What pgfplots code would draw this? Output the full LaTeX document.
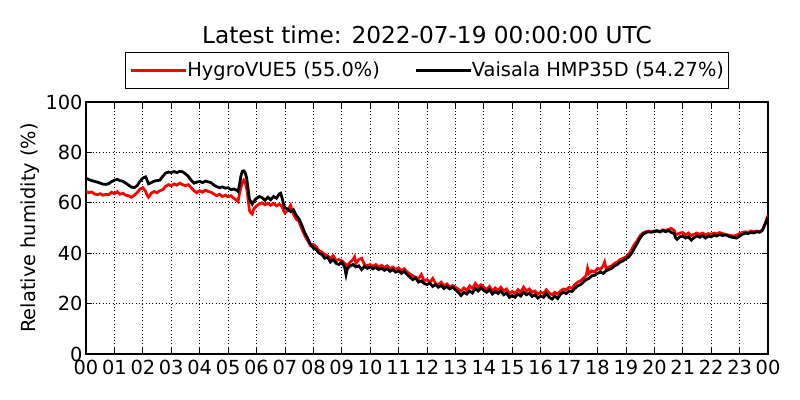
\documentclass[border=0pt]{standalone}
\usepackage{pgfplots}
\usepackage{pgfplotstable}
\pgfplotsset{compat=1.18}
\usepackage{fontspec}
\setmainfont{DejaVu Sans}
\pgfplotstableread{
x y
0.0 64.5
0.1 64.0
0.2 64.3
0.3 63.5
0.4 63.2
0.5 63.6
0.6 63.0
0.7 63.4
0.8 63.2
0.9 64.2
1.0 63.6
1.1 64.4
1.2 63.4
1.3 63.8
1.4 63.0
1.5 62.8
1.6 62.2
1.7 63.0
1.8 64.0
1.9 65.5
2.0 66.0
2.1 64.5
2.15 63.0
2.2 62.2
2.3 63.8
2.4 64.5
2.5 64.0
2.6 64.8
2.7 65.2
2.8 66.5
2.9 67.2
3.0 66.8
3.1 67.5
3.2 67.0
3.3 67.8
3.4 67.2
3.5 66.8
3.6 67.2
3.7 66.0
3.8 64.8
3.9 64.0
4.0 64.8
4.1 64.2
4.2 65.0
4.3 64.5
4.4 64.2
4.5 63.5
4.6 62.8
4.7 63.4
4.8 62.5
4.9 63.0
5.0 62.4
5.1 62.8
5.2 61.8
5.3 61.0
5.35 60.5
5.4 63.5
5.45 66.0
5.5 68.0
5.55 69.0
5.6 68.0
5.65 66.0
5.7 62.0
5.75 57.0
5.8 56.0
5.85 55.5
5.9 57.5
6.0 58.8
6.1 59.5
6.2 60.0
6.3 59.2
6.4 59.8
6.5 59.0
6.6 59.8
6.7 58.8
6.8 59.5
6.9 58.5
6.95 57.0
7.0 56.0
7.1 57.0
7.2 59.0
7.25 57.0
7.3 55.5
7.4 53.5
7.5 52.5
7.6 49.5
7.7 47.0
7.8 45.0
7.9 43.0
8.0 43.5
8.1 42.5
8.2 41.0
8.3 40.5
8.4 39.5
8.5 39.0
8.6 38.0
8.7 39.0
8.8 37.0
8.9 37.5
9.0 37.0
9.1 36.0
9.2 35.0
9.3 36.5
9.4 37.5
9.45 38.5
9.5 36.0
9.6 37.5
9.7 38.0
9.8 35.5
9.9 35.0
10.0 35.5
10.1 34.8
10.2 35.5
10.3 34.5
10.4 35.2
10.5 34.2
10.6 35.0
10.7 33.8
10.8 34.5
10.9 33.5
11.0 34.2
11.1 33.0
11.2 33.8
11.3 32.5
11.4 31.8
11.5 31.0
11.6 30.5
11.7 29.8
11.8 31.5
11.9 29.0
12.0 29.5
12.1 28.5
12.2 30.0
12.3 28.0
12.4 27.5
12.5 28.5
12.6 27.0
12.7 27.8
12.8 26.5
12.9 27.2
13.0 26.5
13.1 25.8
13.2 25.0
13.3 26.2
13.4 25.2
13.5 27.0
13.6 26.0
13.7 28.0
13.8 26.5
13.9 27.5
14.0 26.5
14.1 25.5
14.2 26.8
14.3 25.0
14.4 26.2
14.5 25.2
14.6 26.5
14.7 25.0
14.8 25.8
14.9 24.0
15.0 24.8
15.1 24.0
15.2 25.5
15.3 24.5
15.4 26.5
15.5 25.0
15.6 25.8
15.7 24.5
15.8 25.0
15.9 23.8
16.0 24.5
16.1 24.0
16.2 25.5
16.3 24.2
16.4 23.5
16.5 24.5
16.6 23.8
16.7 25.0
16.8 25.8
16.9 25.5
17.0 26.5
17.1 26.0
17.2 27.5
17.3 28.5
17.4 29.0
17.5 30.0
17.6 31.0
17.65 34.0
17.7 32.0
17.8 33.0
17.9 32.5
18.0 34.0
18.1 33.5
18.2 35.0
18.25 36.5
18.3 34.0
18.4 34.5
18.5 35.0
18.6 36.0
18.7 36.5
18.8 37.5
18.9 38.0
19.0 38.5
19.1 39.5
19.2 41.5
19.3 43.5
19.4 45.0
19.5 47.0
19.6 48.0
19.7 48.5
19.8 48.8
19.9 48.5
20.0 48.8
20.1 49.0
20.2 48.6
20.3 49.3
20.4 49.0
20.5 49.5
20.6 49.8
20.7 49.0
20.75 47.5
20.8 47.5
20.9 48.0
21.0 48.2
21.1 47.2
21.2 48.0
21.3 47.0
21.4 47.5
21.5 48.0
21.6 47.4
21.7 48.0
21.8 47.2
21.9 47.8
22.0 47.5
22.1 48.0
22.2 47.6
22.3 48.2
22.4 47.8
22.5 47.5
22.6 47.2
22.7 47.0
22.8 46.8
22.9 47.2
23.0 47.8
23.1 48.2
23.2 48.5
23.3 48.2
23.4 48.8
23.5 48.5
23.6 48.8
23.7 48.5
23.8 49.2
23.9 51.8
24.0 55.0
}\hygro
\pgfplotstableread{
x y
0.0 69.8
0.1 69.2
0.2 68.8
0.3 68.5
0.4 68.2
0.5 67.8
0.6 67.4
0.7 67.3
0.8 67.6
0.9 68.4
1.0 69.0
1.1 69.3
1.2 68.8
1.3 68.5
1.4 67.8
1.5 67.0
1.6 66.2
1.7 66.0
1.8 66.8
1.9 68.5
2.0 69.8
2.1 70.3
2.15 69.0
2.2 67.5
2.3 68.0
2.4 68.6
2.5 68.8
2.6 69.0
2.7 70.5
2.8 71.8
2.9 72.2
3.0 72.0
3.1 72.4
3.2 72.0
3.3 72.5
3.4 72.3
3.5 71.5
3.6 70.5
3.7 69.0
3.8 67.8
3.9 68.2
4.0 68.5
4.1 68.0
4.2 68.6
4.3 68.3
4.4 68.0
4.5 67.0
4.6 66.4
4.7 66.0
4.8 66.3
4.9 65.8
5.0 66.0
5.1 65.2
5.2 65.5
5.3 65.0
5.35 64.5
5.4 67.0
5.45 70.5
5.5 72.5
5.55 72.7
5.6 72.0
5.65 70.0
5.7 66.0
5.75 61.5
5.8 60.4
5.85 59.5
5.9 60.5
6.0 61.8
6.1 62.5
6.2 62.0
6.3 61.0
6.4 62.2
6.5 61.2
6.6 62.5
6.7 61.8
6.8 63.5
6.85 63.8
6.9 62.0
6.95 59.5
7.0 58.0
7.1 57.5
7.2 56.5
7.3 57.2
7.4 55.0
7.5 53.5
7.6 51.0
7.7 48.0
7.8 46.0
7.9 43.5
8.0 42.0
8.1 41.5
8.2 40.0
8.3 39.5
8.4 38.0
8.5 38.5
8.6 36.5
8.7 37.5
8.8 36.0
8.9 35.5
9.0 36.5
9.1 34.5
9.15 31.5
9.2 34.0
9.3 35.0
9.4 35.5
9.5 34.5
9.6 35.0
9.7 33.5
9.8 34.8
9.9 34.0
10.0 34.5
10.1 33.8
10.2 34.4
10.3 33.5
10.4 34.0
10.5 33.2
10.6 33.8
10.7 32.8
10.8 33.5
10.9 32.5
11.0 33.0
11.1 32.0
11.2 32.8
11.3 31.5
11.4 30.5
11.5 29.5
11.6 30.2
11.7 28.5
11.8 29.0
11.9 28.0
12.0 27.5
12.1 28.2
12.2 26.8
12.3 27.5
12.4 26.5
12.5 27.2
12.6 26.0
12.7 26.8
12.8 25.8
12.9 26.5
13.0 25.5
13.1 24.5
13.2 23.2
13.3 24.5
13.4 23.8
13.5 25.0
13.6 24.2
13.7 26.0
13.8 25.0
13.9 26.2
14.0 25.2
14.1 24.5
14.2 25.5
14.3 23.8
14.4 24.8
14.5 24.0
14.6 25.0
14.7 23.5
14.8 24.2
14.9 22.5
15.0 23.2
15.1 22.5
15.2 23.8
15.3 23.0
15.4 24.5
15.5 23.5
15.6 24.2
15.7 22.8
15.8 23.5
15.9 22.2
16.0 23.0
16.1 22.5
16.2 24.0
16.3 22.5
16.4 21.8
16.5 23.0
16.6 22.0
16.7 23.8
16.8 24.5
16.9 24.0
17.0 25.0
17.1 24.8
17.2 26.0
17.3 27.0
17.4 27.5
17.5 28.5
17.6 29.5
17.7 30.0
17.8 31.0
17.9 31.2
18.0 32.0
18.1 32.5
18.2 32.0
18.3 33.0
18.4 33.5
18.5 34.0
18.6 35.0
18.7 35.5
18.8 36.5
18.9 37.0
19.0 37.8
19.1 38.5
19.2 40.0
19.3 42.0
19.4 44.0
19.5 46.0
19.6 47.5
19.7 48.2
19.8 48.5
19.9 48.3
20.0 48.6
20.1 48.8
20.2 48.4
20.3 49.0
20.4 48.5
20.5 49.0
20.6 48.2
20.7 47.8
20.75 46.0
20.8 45.5
20.9 46.5
21.0 46.8
21.1 46.0
21.2 46.5
21.3 45.2
21.4 46.2
21.5 46.8
21.6 46.3
21.7 47.0
21.8 46.0
21.9 46.8
22.0 46.5
22.1 47.2
22.2 46.8
22.3 47.5
22.4 47.0
22.5 47.3
22.6 46.8
22.7 46.4
22.8 46.2
22.9 46.0
23.0 46.8
23.1 47.5
23.2 48.0
23.3 47.8
23.4 48.2
23.5 48.0
23.6 48.5
23.7 48.3
23.8 49.0
23.9 51.5
24.0 54.3
}\vaisala
\begin{document}
\begin{tikzpicture}
\path[use as bounding box] (-0.86in,-0.46in) rectangle (7.14in,3.54in);
\begin{axis}[
  at={(0,0)}, anchor=south west,
  scale only axis, width=6.82in, height=2.52in,
  xmin=0, xmax=24, ymin=0, ymax=100,
  xtick={0,...,24},
  xticklabels={00,01,02,03,04,05,06,07,08,09,10,11,12,13,14,15,16,17,18,19,20,21,22,23,00},
  ytick={0,20,...,100},
  grid=major,
  major grid style={black, dotted, line width=0.6pt},
  axis line style={black, line width=0.8pt},
  tick style={black, line width=0.6pt},
  major tick length=4.5pt,
  tick align=inside,
  ticklabel style={font=\fontsize{14}{16}\selectfont},
  xticklabel style={yshift=-1pt},
  yticklabel style={xshift=1pt},
  /pgf/number format/assume math mode=true,
  ylabel={Relative humidity (\%)},
  ylabel style={font=\fontsize{14}{16}\selectfont, at={(axis description cs:-0.0821,0.5)}, anchor=center},
  legend style={at={(0.5,1)}, anchor=south, yshift=0.13in, legend columns=2, draw=black, line width=0.8pt, font=\fontsize{14}{16}\selectfont,
    nodes={inner xsep=0pt},
    /tikz/every even column/.append style={column sep=25pt},
    inner xsep=3.5pt, inner ysep=5pt},
  legend cell align=left,
  legend image code/.code={\path (0pt,0pt) -- (39.5pt,0pt); \draw[#1, line width=2pt] (0pt,0pt) -- (29.8pt,0pt);},
  title={Latest time: 2022-07-19 00:00:00 UTC},
  title style={font=\fontsize{16.8}{19}\selectfont, at={(0.5,1)}, anchor=base, yshift=0.50in},
]
\addplot[red, line width=2pt] table[x=x,y=y] {\hygro};
\addlegendentry{HygroVUE5 (55.0\%)}
\addplot[black, line width=2pt] table[x=x,y=y] {\vaisala};
\addlegendentry{Vaisala HMP35D (54.27\%)}
\end{axis}
\end{tikzpicture}
\end{document}
